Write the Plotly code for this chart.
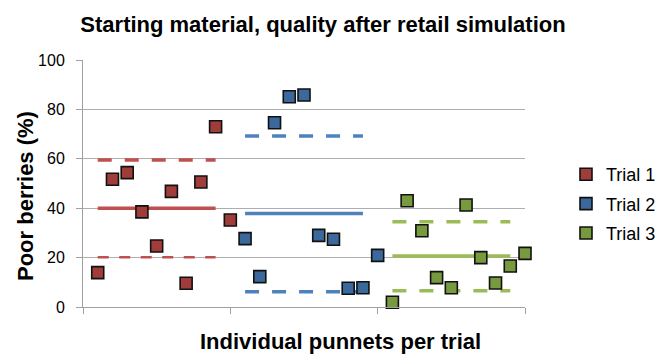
import plotly.graph_objects as go

# Poor berries (%) per punnet, ten punnets per trial
trial_names = ["Trial 1", "Trial 2", "Trial 3"]
punnet_x = [
    [1, 2, 3, 4, 5, 6, 7, 8, 9, 10],
    [11, 12, 13, 14, 15, 16, 17, 18, 19, 20],
    [21, 22, 23, 24, 25, 26, 27, 28, 29, 30],
]
trial1_values = [13.9, 51.7, 54.4, 38.5, 24.7, 46.8, 9.6, 50.6, 73.0, 35.2]
trial2_values = [27.7, 12.3, 74.6, 85.1, 85.8, 29.0, 27.4, 7.6, 7.8, 20.9]
trial3_values = [1.9, 43.0, 30.9, 11.9, 7.8, 41.3, 20.0, 9.7, 16.6, 21.7]
trial_values = [trial1_values, trial2_values, trial3_values]

# Mean and mean ± SD reference lines per trial
trial_means = [40.0, 37.9, 20.6]
trial_upper = [59.5, 69.2, 34.5]
trial_lower = [20.1, 6.2, 6.6]
line_start = [1, 11, 21]
line_end = [9, 19, 29]

y_ticks = [0, 20, 40, 60, 80, 100]
x_ticks = [0, 10, 20, 30]

marker_colors = ["#A03D3A", "#3C699C", "#789A3F"]
line_colors = ["#C0504D", "#4F81BD", "#9BBB59"]

FONT = "Liberation Sans, Arial, sans-serif"

fig = go.Figure()

for i in range(3):
    xs = [line_start[i], line_end[i]]
    fig.add_trace(go.Scatter(
        x=xs, y=[trial_means[i]] * 2, mode="lines",
        line=dict(color=line_colors[i], width=3.5),
        showlegend=False, hoverinfo="skip", cliponaxis=False))
    fig.add_trace(go.Scatter(
        x=xs, y=[trial_upper[i]] * 2, mode="lines",
        line=dict(color=line_colors[i], width=3.5, dash="14px,13px"),
        showlegend=False, hoverinfo="skip", cliponaxis=False))
    low_width = 2.5 if i == 0 else 3.5
    low_dash = "11px,10.5px" if i == 0 else "14px,13px"
    fig.add_trace(go.Scatter(
        x=xs, y=[trial_lower[i]] * 2, mode="lines",
        line=dict(color=line_colors[i], width=low_width, dash=low_dash),
        showlegend=False, hoverinfo="skip", cliponaxis=False))

for i in range(3):
    fig.add_trace(go.Scatter(
        x=punnet_x[i], y=trial_values[i], mode="markers", name=trial_names[i],
        legendgroup=trial_names[i],
        marker=dict(symbol="square", size=12, color=marker_colors[i],
                    line=dict(color="#111111", width=1.6)),
        cliponaxis=False))

W, H = 658, 356
L, R, T, B = 83, 133, 60, 49
pw, ph = W - L - R, H - T - B


def px(x):
    return (x - L) / pw


def py(y):
    return (H - B - y) / ph


fig.update_layout(
    width=W, height=H,
    margin=dict(l=L, r=R, t=T, b=B, autoexpand=False),
    paper_bgcolor="white", plot_bgcolor="white",
    font=dict(family=FONT, color="#000000", size=16),
    title=dict(text="Starting material, quality after retail simulation",
               x=323 / W, xanchor="center", y=1 - 24 / H, yanchor="middle",
               font=dict(family=FONT, size=22, weight="bold")),
    legend=dict(x=px(566), xanchor="left", y=py(156), yanchor="top",
                font=dict(family=FONT, size=18), tracegroupgap=3,
                itemwidth=30, bgcolor="rgba(0,0,0,0)"),
    showlegend=True,
    xaxis=dict(range=[0, 30], tickvals=x_ticks, showticklabels=False,
               ticks="outside", ticklen=6, tickcolor="#A0A0A0",
               showline=True, linecolor="#A0A0A0", linewidth=1,
               showgrid=False, zeroline=False, fixedrange=True),
    yaxis=dict(range=[0, 100], tickvals=y_ticks,
               ticks="outside", ticklen=6, tickcolor="#A0A0A0",
               ticklabelstandoff=8,
               showline=True, linecolor="#A0A0A0", linewidth=1,
               showgrid=True, gridcolor="#AEAEAE", gridwidth=1,
               zeroline=False, tickfont=dict(size=16), fixedrange=True),
    annotations=[
        dict(text="Poor berries (%)", textangle=-90, xref="paper", yref="paper",
             x=px(25), y=py(196), xanchor="center", yanchor="middle",
             showarrow=False, font=dict(family=FONT, size=22, weight="bold")),
        dict(text="Individual punnets per trial", xref="paper", yref="paper",
             x=px(340), y=py(341), xanchor="center", yanchor="middle",
             showarrow=False, font=dict(family=FONT, size=22, weight="bold")),
    ],
)

fig.write_html("out.html")
